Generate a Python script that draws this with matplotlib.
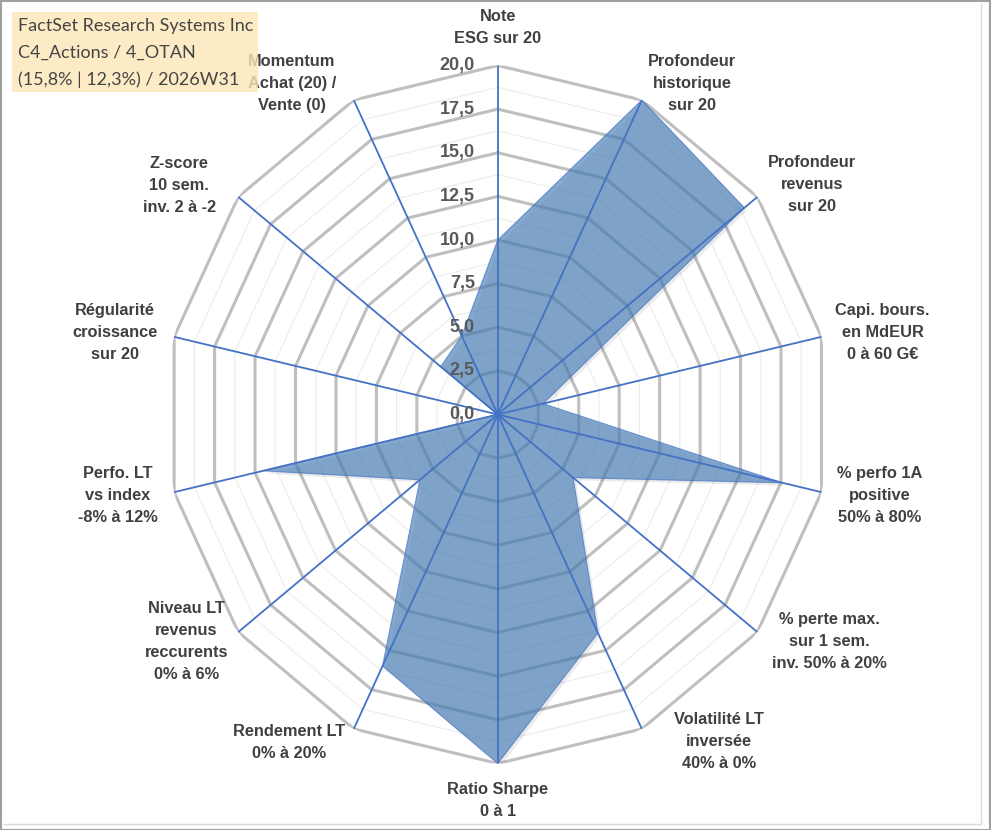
import numpy as np
import matplotlib
matplotlib.use("Agg")
import matplotlib.pyplot as plt
from matplotlib.patches import Rectangle
from matplotlib.lines import Line2D
import matplotlib.patheffects as pe

# ---------------- data ----------------
categories = [
    "Note\nESG sur 20",
    "Profondeur\nhistorique\nsur 20",
    "Profondeur\nrevenus\nsur 20",
    "Capi. bours.\nen MdEUR\n0 à 60 G€",
    "% perfo 1A\npositive\n50% à 80%",
    "% perte max.\nsur 1 sem.\ninv. 50% à 20%",
    "Volatilité LT\ninversée\n40% à 0%",
    "Ratio Sharpe\n0 à 1",
    "Rendement LT\n0% à 20%",
    "Niveau LT\nrevenus\nreccurents\n0% à 6%",
    "Perfo. LT\nvs index\n-8% à 12%",
    "Régularité\ncroissance\nsur 20",
    "Z-score\n10 sem.\ninv. 2 à -2",
    "Momentum\nAchat (20) /\nVente (0)",
]
values = [10.0, 20.0, 19.0, 2.8, 17.6, 5.8, 13.9, 20.0, 16.0, 6.0, 14.5, 0.0, 4.4, 5.0]
tick_values = [0.0, 2.5, 5.0, 7.5, 10.0, 12.5, 15.0, 17.5, 20.0]
tick_labels = ["0,0", "2,5", "5,0", "7,5", "10,0", "12,5", "15,0", "17,5", "20,0"]
title_lines = ["FactSet Research Systems Inc",
               "C4_Actions / 4_OTAN",
               "(15,8% | 12,3%) / 2026W31"]

# label offsets (pixels, from each outer vertex) - layout only
label_offsets = [(0, 38), (50, 17), (55, 12), (61, 4), (58, -3), (72, -9), (77, -13),
                 (0, -37), (-65, -14), (-52, -9), (-56, -3), (-59, 4), (-59, 11), (-62, 17)]

W, H = 991, 830
fig = plt.figure(figsize=(W / 100, H / 100), dpi=100)
fig.patch.set_facecolor("white")

cx, cy = 497.8, 414.5
Rh, Rv = 332, 349
ax = fig.add_axes([(cx - Rh) / W, (H - cy - Rv) / H, 2 * Rh / W, 2 * Rv / H],
                  projection="polar")
ax.set_aspect("auto")
ax.set_theta_zero_location("N")
ax.set_theta_direction(-1)
ax.set_ylim(0, 20)
ax.set_axis_off()

n = len(categories)
theta = np.arange(n) * 2 * np.pi / n
theta_c = np.append(theta, theta[0])

# ring grid
for r in np.arange(1.25, 20.01, 1.25):
    major = abs(r / 2.5 - round(r / 2.5)) < 1e-9
    ax.plot(theta_c, np.full(n + 1, r),
            color="#bfbfbf" if major else "#ececec",
            lw=2.2 if major else 0.8, zorder=1, solid_joinstyle="miter")

# data fill
vals_c = np.append(values, values[0])
ax.fill(theta_c, vals_c, facecolor="#4a80b8", alpha=0.68, edgecolor="#4472c4",
        lw=0.8, zorder=2,
        path_effects=[pe.SimplePatchShadow(offset=(2, -2), shadow_rgbFace="black", alpha=0.08),
                      pe.Normal()])

# spokes
for t in theta:
    ax.plot([t, t], [0, 20], color="#4472c4", lw=1.3, zorder=3)

# radial tick labels
for v, s in zip(tick_values, tick_labels):
    ax.annotate(s, xy=(0, v), xytext=(-23, 0), textcoords="offset pixels",
                ha="right", va="center", fontsize=13, fontweight="bold",
                color="#595959", family="Liberation Sans", zorder=4,
                annotation_clip=False)

# category labels
for t, lab, off in zip(theta, categories, label_offsets):
    ax.annotate(lab, xy=(t, 20), xytext=off, textcoords="offset pixels",
                ha="center", va="center", fontsize=11.8, fontweight="bold",
                color="#404040", family="Liberation Sans", linespacing=1.58,
                annotation_clip=False, zorder=4)

# title box
box = Rectangle((12 / W, 1 - 92 / H), (258 - 12) / W, (92 - 12) / H,
                transform=fig.transFigure, facecolor="#fde6b8", alpha=0.8,
                edgecolor="none", zorder=10)
fig.add_artist(box)
for i, line in enumerate(title_lines):
    fig.text(18 / W, 1 - (26.5 + i * 26.7) / H, line, ha="left", va="center",
             fontsize=13, color="#454545", family="Lato", zorder=11)

# chart borders
fig.add_artist(Rectangle((0.5 / W, 0.5 / H), (W - 1.5) / W, (H - 1.5) / H,
                         transform=fig.transFigure, fill=False,
                         edgecolor="#a0a0a0", lw=1.5, zorder=12))
fig.add_artist(Line2D([980.5 / W, 980.5 / W], [1 - 4 / H, 1 - 824 / H],
                      transform=fig.transFigure, color="#dadada", lw=1, zorder=12))
fig.add_artist(Line2D([4 / W, 980.5 / W], [1 - 824 / H, 1 - 824 / H],
                      transform=fig.transFigure, color="#dadada", lw=1, zorder=12))

fig.savefig("out.png", dpi=100, facecolor="white")
